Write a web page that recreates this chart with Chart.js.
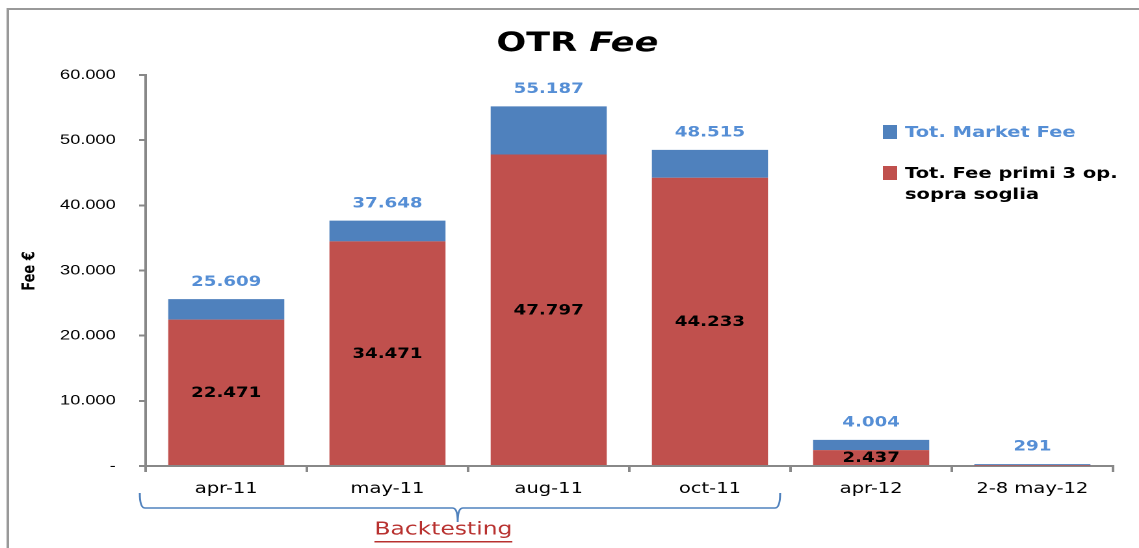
<!DOCTYPE html>
<html>
<head>
<meta charset="utf-8">
<script src="https://cdn.jsdelivr.net/npm/chart.js@4"></script>
<style>
  html, body { margin: 0; padding: 0; background: #fff; overflow: hidden; }
  #wrap { width: 876px; height: 548px; transform: scaleX(1.30023); transform-origin: 0 0; }
</style>
</head>
<body>
<div id="wrap"><canvas id="otr_chart"></canvas></div>
<script>
const categories = ['apr-11', 'may-11', 'aug-11', 'oct-11', 'apr-12', '2-8 may-12'];
const feePrimi3 = [22471, 34471, 47797, 44233, 2437, 60];
const totMarketFee = [25609, 37648, 55187, 48515, 4004, 291];
const showPrimiLabel = [true, true, true, true, true, false];
const yTicks = [0, 10000, 20000, 30000, 40000, 50000, 60000];

const RED = '#C0504D';
const BLUE = '#4F81BD';
const LABEL_BLUE = '#558ED5';
const FONT = '"DejaVu Sans", sans-serif';

// blue part sits on top of the red one, total = label
const marketRest = totMarketFee.map((t, i) => t - feePrimi3[i]);

function fmt(v) {
    if (v === 0) return '-';
    return String(v).replace(/\B(?=(\d{3})+(?!\d))/g, '.');
}

const decorations = {
    id: 'decorations',
    afterDraw(chart) {
        const ctx = chart.ctx;
        const red = chart.getDatasetMeta(0).data;
        const blue = chart.getDatasetMeta(1).data;
        ctx.save();
        ctx.textAlign = 'center';
        ctx.textBaseline = 'middle';

        // value labels
        ctx.font = 'bold 14px ' + FONT;
        blue.forEach((bar, i) => {
            ctx.fillStyle = LABEL_BLUE;
            ctx.fillText(fmt(totMarketFee[i]), bar.x, bar.y - 17);
        });
        red.forEach((bar, i) => {
            if (!showPrimiLabel[i]) return;
            ctx.fillStyle = '#000';
            ctx.fillText(fmt(feePrimi3[i]), bar.x, (bar.y + bar.base) / 2 + 1);
        });

        // title
        ctx.font = 'bold 27px ' + FONT;
        const a = 'OTR ';
        const wa = ctx.measureText(a).width;
        ctx.font = 'italic bold 27px ' + FONT;
        const wb = ctx.measureText('Fee').width;
        let tx = 444 - (wa + wb) / 2;
        ctx.textAlign = 'left';
        ctx.fillStyle = '#000';
        ctx.font = 'bold 27px ' + FONT;
        ctx.fillText(a, tx, 44);
        ctx.font = 'italic bold 27px ' + FONT;
        ctx.fillText('Fee', tx + wa, 44);

        // y axis title
        ctx.save();
        ctx.translate(23, 271);
        ctx.rotate(-Math.PI / 2);
        ctx.textAlign = 'center';
        ctx.font = 'bold 13px ' + FONT;
        ctx.fillText('Fee €', 0, 0);
        ctx.restore();

        // legend
        ctx.textAlign = 'left';
        ctx.font = 'bold 15px ' + FONT;
        ctx.fillStyle = BLUE;
        ctx.fillRect(679, 125, 11, 14);
        ctx.fillStyle = LABEL_BLUE;
        ctx.fillText('Tot. Market Fee', 696, 133);
        ctx.fillStyle = RED;
        ctx.fillRect(679, 166, 11, 14);
        ctx.fillStyle = '#000';
        ctx.fillText('Tot. Fee primi 3 op.', 696, 174);
        ctx.fillText('sopra soglia', 696, 195);

        // brace under the backtesting months
        const L = 107.5, R = 600, tip = 352, top = 493, mid = 508, bot = 522, r = 4;
        ctx.strokeStyle = BLUE;
        ctx.lineWidth = 1.5;
        ctx.beginPath();
        ctx.moveTo(L, top);
        ctx.quadraticCurveTo(L, mid, L + r, mid);
        ctx.lineTo(tip - r, mid);
        ctx.quadraticCurveTo(tip, mid, tip, bot);
        ctx.quadraticCurveTo(tip, mid, tip + r, mid);
        ctx.lineTo(R - r, mid);
        ctx.quadraticCurveTo(R, mid, R, top);
        ctx.stroke();

        // Backtesting
        ctx.textAlign = 'center';
        ctx.font = '18px ' + FONT;
        ctx.fillStyle = '#B8312F';
        ctx.fillText('Backtesting', 341, 530);
        const bw = ctx.measureText('Backtesting').width;
        ctx.fillRect(341 - bw / 2, 541, bw, 1.5);

        // frame
        ctx.strokeStyle = '#999';
        ctx.lineWidth = 2;
        ctx.beginPath();
        ctx.moveTo(6, 548);
        ctx.lineTo(6, 9);
        ctx.lineTo(876, 9);
        ctx.stroke();
        ctx.restore();
    }
};

new Chart(document.getElementById('otr_chart'), {
    type: 'bar',
    data: {
        labels: categories,
        datasets: [
            {
                label: 'Tot. Fee primi 3 op. sopra soglia',
                data: feePrimi3,
                backgroundColor: RED,
                barPercentage: 0.72,
                categoryPercentage: 1
            },
            {
                label: 'Tot. Market Fee',
                data: marketRest,
                backgroundColor: BLUE,
                barPercentage: 0.72,
                categoryPercentage: 1
            }
        ]
    },
    options: {
        responsive: true,
        maintainAspectRatio: false,
        devicePixelRatio: 2,
        animation: false,
        layout: { padding: { top: 75, right: 20, bottom: 0, left: 0 } },
        plugins: {
            legend: { display: false },
            tooltip: { enabled: false }
        },
        scales: {
            x: {
                stacked: true,
                afterFit: s => { s.height = 82; },
                border: { color: '#888', width: 2 },
                grid: { drawOnChartArea: false, color: '#888', lineWidth: 2, tickLength: 6 },
                ticks: { color: '#000', font: { family: FONT, size: 15 }, padding: 8, maxRotation: 0 }
            },
            y: {
                stacked: true,
                min: 0,
                max: 60000,
                afterFit: s => { s.width = 112; },
                afterBuildTicks: s => { s.ticks = yTicks.map(v => ({ value: v })); },
                border: { color: '#888', width: 2 },
                grid: { drawOnChartArea: false, color: '#888', lineWidth: 2, tickLength: 5 },
                ticks: { color: '#000', font: { family: '"Liberation Sans", sans-serif', size: 14 }, padding: 18, callback: v => fmt(v) }
            }
        }
    },
    plugins: [decorations]
});
</script>
</body>
</html>
